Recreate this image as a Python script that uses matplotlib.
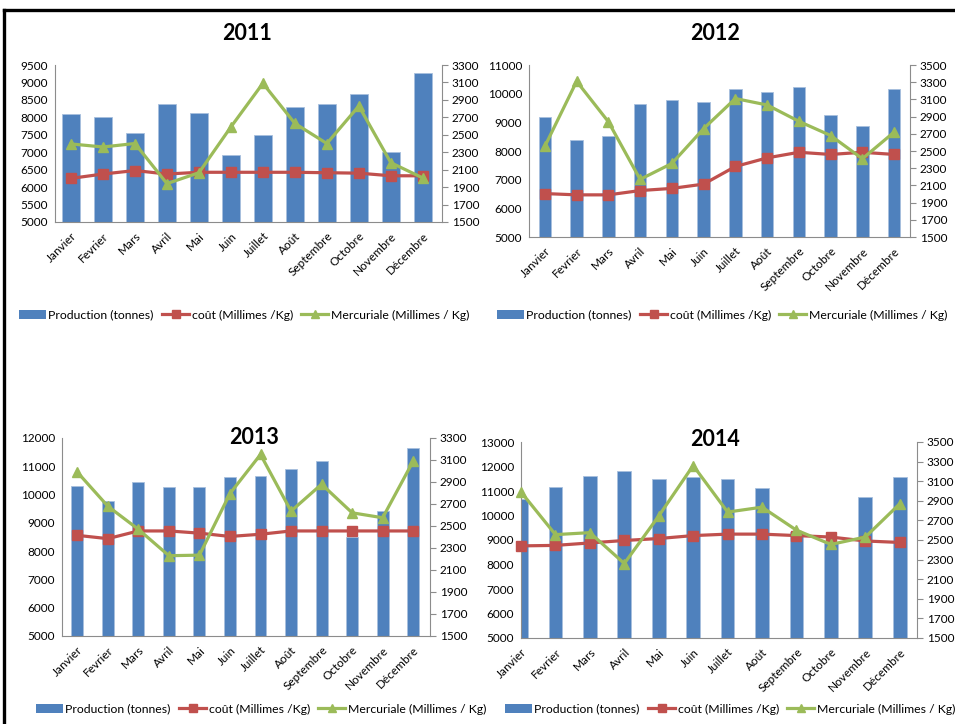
import matplotlib
matplotlib.use("Agg")
import matplotlib.pyplot as plt
from matplotlib.lines import Line2D
from matplotlib.patches import Patch
import numpy as np

plt.rcParams['font.family'] = ['Lato', 'DejaVu Sans']

# --- donnees ---
mois = ["Janvier", "Fevrier", "Mars", "Avril", "Mai", "Juin", "Juillet",
        "Août", "Septembre", "Octobre", "Novembre", "Décembre"]

prod_2011 = [8100, 8000, 7550, 8370, 8110, 6930, 7490, 8290, 8380, 8680, 7000, 9270]
cout_2011 = [2000, 2050, 2090, 2050, 2070, 2070, 2070, 2070, 2065, 2060, 2030, 2030]
merc_2011 = [2395, 2360, 2400, 1940, 2065, 2590, 3090, 2630, 2400, 2830, 2180, 2005]

prod_2012 = [9180, 8370, 8530, 9640, 9780, 9700, 10180, 10060, 10230, 9250, 8870, 10170]
cout_2012 = [2005, 1990, 1990, 2040, 2065, 2115, 2320, 2420, 2485, 2460, 2485, 2460]
merc_2012 = [2555, 3310, 2840, 2170, 2355, 2760, 3110, 3035, 2845, 2680, 2410, 2720]

prod_2013 = [10290, 9770, 10460, 10280, 10260, 10610, 10660, 10920, 11200, 8510, 9430, 11650]
cout_2013 = [2415, 2385, 2455, 2455, 2435, 2405, 2425, 2455, 2455, 2455, 2455, 2455]
merc_2013 = [2990, 2680, 2470, 2230, 2235, 2795, 3150, 2635, 2880, 2620, 2575, 3090]

prod_2014 = [10660, 11160, 11610, 11820, 11480, 11570, 11480, 11120, 9330, 8860, 10760, 11570]
cout_2014 = [2440, 2445, 2470, 2495, 2515, 2545, 2560, 2560, 2545, 2530, 2490, 2475]
merc_2014 = [2990, 2555, 2575, 2260, 2745, 3260, 2785, 2835, 2600, 2455, 2530, 2870]

BLEU = '#4F81BD'
ROUGE = '#C0504D'
VERT = '#9BBB59'
GRIS = '#8C8C8C'

W, H = 955, 724
fig = plt.figure(figsize=(W / 100, H / 100), dpi=100)


def axes_px(left, top, right, bottom):
    return fig.add_axes([left / W, 1 - bottom / H, (right - left) / W, (bottom - top) / H])


def panel(box, annee, prod, cout, merc, yl, yr, xlim, largeur, titre_xy):
    ax = axes_px(*box)
    x = np.arange(len(mois))
    ax.bar(x, prod, width=largeur, color=BLEU, edgecolor='#a8c0de', linewidth=0.6, zorder=2)
    ax.set_xlim(*xlim)
    ax.set_ylim(yl[0], yl[1])
    ax.set_yticks(np.arange(yl[0], yl[1] + 1, yl[2]))
    ax.set_xticks(x)
    ax.set_xticklabels(mois, rotation=45, ha='right', va='top', rotation_mode='anchor', fontsize=8.5)
    ax.tick_params(axis='both', length=0, labelsize=8.5, pad=5)
    ax.tick_params(axis='x', pad=6)
    for s in ['top', 'right']:
        ax.spines[s].set_visible(False)
    for s in ['left', 'bottom']:
        ax.spines[s].set_color(GRIS)
        ax.spines[s].set_linewidth(0.8)

    ax2 = ax.twinx()
    ax2.plot(x, cout, color=ROUGE, lw=2.3, marker='s', ms=7, zorder=3, clip_on=False)
    ax2.plot(x, merc, color=VERT, lw=2.3, marker='^', ms=7.5, zorder=4, clip_on=False)
    ax2.set_ylim(yr[0], yr[1])
    ax2.set_yticks(np.arange(yr[0], yr[1] + 1, yr[2]))
    ax2.tick_params(axis='y', direction='out', length=4, color=GRIS, labelsize=8.5, pad=3)
    for s in ['top', 'left', 'bottom']:
        ax2.spines[s].set_visible(False)
    ax2.spines['right'].set_color(GRIS)
    ax2.spines['right'].set_linewidth(0.8)

    fig.text(titre_xy[0] / W, 1 - titre_xy[1] / H, str(annee), ha='center', va='center',
             fontsize=15.5, fontweight='bold')


panel((55, 65, 442, 222), 2011, prod_2011, cout_2011, merc_2011,
      (5000, 9500, 500), (1500, 3300, 200), (-0.5, 11.6), 0.56, (247, 34))
panel((529, 65, 910, 237), 2012, prod_2012, cout_2012, merc_2012,
      (5000, 11000, 1000), (1500, 3500, 200), (-0.5, 11.5), 0.39, (715, 34))
panel((62, 438, 430, 636), 2013, prod_2013, cout_2013, merc_2013,
      (5000, 12000, 1000), (1500, 3300, 200), (-0.5, 11.55), 0.39, (254, 438))
panel((521, 442, 917, 638), 2014, prod_2014, cout_2014, merc_2014,
      (5000, 13000, 1000), (1500, 3500, 200), (0.0, 11.5), 0.40, (715, 440))

# legendes
handles = [Patch(facecolor=BLEU, edgecolor='none'),
           Line2D([], [], color=ROUGE, lw=2.3, marker='s', ms=6),
           Line2D([], [], color=VERT, lw=2.3, marker='^', ms=6)]
labels = ["Production (tonnes)", "coût (Millimes /Kg)", "Mercuriale (Millimes / Kg)"]
for cx, cy in [(244, 315), (722, 315), (261, 709), (730, 709)]:
    fig.legend(handles, labels, loc='center', bbox_to_anchor=(cx / W, 1 - cy / H),
               ncol=3, frameon=False, fontsize=8.8, handlelength=2.2, handletextpad=0.2,
               columnspacing=0.7, borderpad=0)

# cadre noir
fig.add_artist(Line2D([4 / W, 1], [1 - 10 / H, 1 - 10 / H], color='black', lw=2.4,
                      transform=fig.transFigure))
fig.add_artist(Line2D([4 / W, 4 / W], [0, 1 - 10 / H], color='black', lw=2.4,
                      transform=fig.transFigure))

fig.savefig("out.png", dpi=100)
